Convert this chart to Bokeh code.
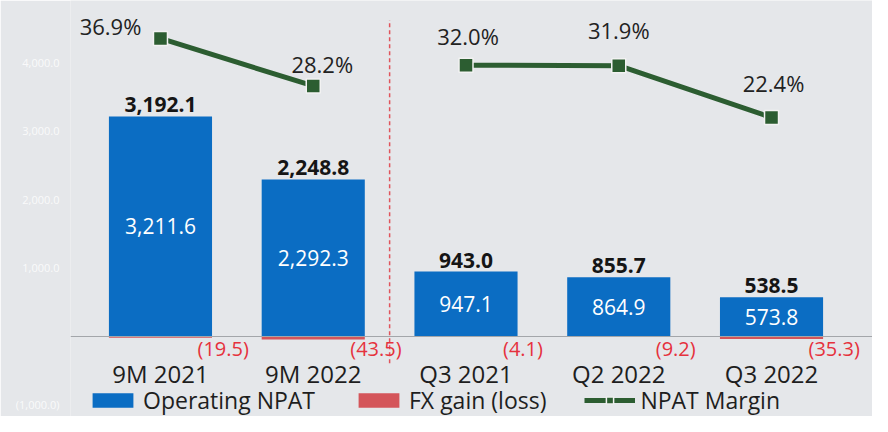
from bokeh.plotting import figure
from bokeh.models import (ColumnDataSource, Range1d, FixedTicker, NumeralTickFormatter,
                          Legend, LegendItem, Span)
from bokeh.core.properties import value
from bokeh.embed import file_html
from bokeh.resources import INLINE

# ---- data ----
categories = ["9M 2021", "9M 2022", "Q3 2021", "Q2 2022", "Q3 2022"]
operating_npat = [3211.6, 2292.3, 947.1, 864.9, 573.8]
fx_gain = [-19.5, -43.5, -4.1, -9.2, -35.3]
npat_total = [3192.1, 2248.8, 943.0, 855.7, 538.5]
npat_margin = [36.9, 28.2, 32.0, 31.9, 22.4]
y_ticks = [-1000, 1000, 2000, 3000, 4000]
n_nine_month = 2  # number of 9M periods, divider after them

# ---- styles ----
FONT = "Open Sans"
BG = "#e5e7ea"
BLUE = "#0b6dc3"
RED = "#d4555a"
RED_TXT = "#e5323d"
GREEN = "#2c5d31"
margin_dx = [-50, 9, 2, 0, 2]
margin_dy = [-12, -22, -29, -36, -35]

idx = list(range(len(categories)))

def fmt(v):
    return f"{v:,.1f}"

def fmt_neg(v):
    return f"({abs(v):,.1f})" if v < 0 else f"{v:,.1f}"

src = ColumnDataSource(dict(
    x=idx,
    cat=categories,
    op=operating_npat,
    op_mid=[v / 2 for v in operating_npat],
    op_txt=[fmt(v) for v in operating_npat],
    fx=fx_gain,
    fx_txt=[fmt_neg(v) for v in fx_gain],
    tot_txt=[fmt(v) for v in npat_total],
    zero=[0] * len(categories),
    mg=npat_margin,
    mg_txt=[f"{v:.1f}%" for v in npat_margin],
    mdx=margin_dx,
    mdy=margin_dy,
))
src_9m = ColumnDataSource(dict(x=idx[:n_nine_month], mg=npat_margin[:n_nine_month]))
src_q = ColumnDataSource(dict(x=idx[n_nine_month:], mg=npat_margin[n_nine_month:]))

p = figure(width=872, height=416,
           x_range=Range1d(-0.589, 4.661), y_range=Range1d(-1168, 4905),
           output_backend="svg", toolbar_location=None, x_axis_location=None,
           min_border_left=70, min_border_right=0, min_border_top=0, min_border_bottom=0,
           background_fill_color=BG, border_fill_color=BG, outline_line_color=None)
p.grid.visible = False
p.extra_y_ranges = {"pct": Range1d(-32.46, 43.87)}

ax = p.yaxis[0]
ax.ticker = FixedTicker(ticks=y_ticks)
ax.formatter = NumeralTickFormatter(format="(0,0.0)")
ax.axis_line_color = None
ax.major_tick_line_color = None
ax.minor_tick_line_color = None
ax.major_label_text_color = "white"
ax.major_label_text_alpha = 0.8
ax.major_label_text_font = FONT
ax.major_label_text_font_size = "11px"
ax.major_label_standoff = 5

p.add_layout(Span(location=0, dimension="width", line_color="#a3a6aa", line_width=1.2))

bar_w = 0.675
r_op = p.vbar(x="x", top="op", bottom=0, width=bar_w, source=src,
              fill_color=BLUE, line_color=None)
r_fx = p.vbar(x="x", top=0, bottom="fx", width=bar_w, source=src,
              fill_color=RED, line_color=None)

# divider
p.segment(x0=[n_nine_month - 0.5], x1=[n_nine_month - 0.5], y0=[-390], y1=[4620],
          line_color="#e0545c", line_width=1.5, line_dash="4 3")

# labels on bars
p.text(x="x", y="op", text="tot_txt", source=src, text_align="center",
       text_baseline="bottom", y_offset=-4, text_font=value(FONT),
       text_font_style="bold", text_font_size="21px", text_color="#151515")
p.text(x="x", y="op_mid", text="op_txt", source=src, text_align="center",
       text_baseline="middle", text_font=value(FONT), text_font_size="21px",
       text_color="white")
p.text(x="x", y="zero", text="fx_txt", source=src, text_align="left",
       text_baseline="middle", x_offset=37, y_offset=12, text_font=value(FONT),
       text_font_size="20px", text_color=RED_TXT)
p.text(x="x", y="zero", text="cat", source=src, text_align="center",
       text_baseline="middle", y_offset=37, text_font=value(FONT),
       text_font_size="24px", text_color="#1e1e1e")

# margin line: separate segments for 9M and quarterly periods
r_ln = p.line(x="x", y="mg", source=src_9m, y_range_name="pct",
              line_color=GREEN, line_width=5)
p.line(x="x", y="mg", source=src_q, y_range_name="pct",
       line_color=GREEN, line_width=5)
r_mk = p.scatter(x="x", y="mg", source=src, y_range_name="pct", marker="square", size=14,
                 fill_color=GREEN, line_color="#f2f2f2", line_width=1.5)
p.text(x="x", y="mg", text="mg_txt", source=src, y_range_name="pct", text_align="center",
       text_baseline="middle", x_offset="mdx", y_offset="mdy", text_font=value(FONT),
       text_font_size="22px", text_color="#222222")

legend = Legend(items=[
    LegendItem(label="Operating NPAT", renderers=[r_op]),
    LegendItem(label="FX gain (loss)", renderers=[r_fx]),
    LegendItem(label="NPAT Margin", renderers=[r_ln, r_mk]),
], orientation="horizontal", location=(17, 0), glyph_width=51, glyph_height=18,
   label_text_font=FONT, label_text_font_size="23px", label_text_color="#1e1e1e",
   label_height=18, label_standoff=5, spacing=38, padding=0, margin=0,
   background_fill_alpha=0, border_line_color=None)
p.add_layout(legend, "center")

open("out.html", "w").write(file_html(p, INLINE))
